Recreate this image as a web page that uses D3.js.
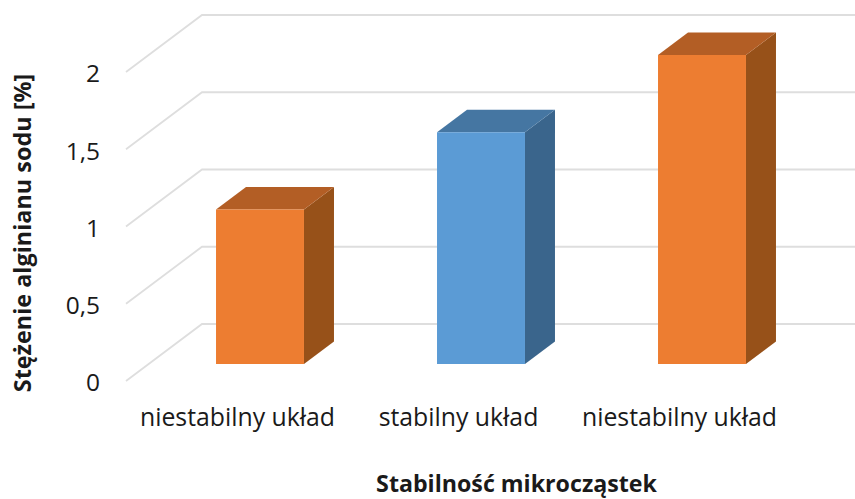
<!DOCTYPE html>
<html><head><meta charset="utf-8">
<script src="https://cdn.jsdelivr.net/npm/d3@7"></script>
<style>html,body{margin:0;padding:0;background:#fff}svg{display:block}text{font-family:"Open Sans",sans-serif;fill:#1a1a1a}</style>
</head><body><svg id="c" width="855" height="499"></svg>
<script>
const categories = ["niestabilny układ","stabilny układ","niestabilny układ"];
const values = [1, 1.5, 2];
const groups = ["u","s","u"];
const yTicks = [0, 0.5, 1, 1.5, 2];
const yTitle = "Stężenie alginianu sodu [%]";
const xTitle = "Stabilność mikrocząstek";
const fronts = ["#ED7D31","#5B9BD5"];
const tops = ["#B35E25","#4576A2"];
const sides = ["#975119","#3A658C"];

const svg = d3.select("#c");
const y = d3.scaleLinear().domain([0,2]).range([381,72]);
const x = d3.scaleBand().domain(d3.range(categories.length)).range([149.5,812.5]).paddingInner(0.602).paddingOuter(0.301);
const colour = s => d3.scaleOrdinal(["u","s"], s);
const fillF = colour(fronts), fillT = colour(tops), fillS = colour(sides);
const wall = {dx:76, dy:-57, x0:126, x1:855};
const depth = {dx:30, dy:-22.5, lift:17};
const line = d3.line();

svg.append("g").selectAll("path").data(yTicks).join("path")
  .attr("d", v => line([[wall.x0,y(v)],[wall.x0+wall.dx,y(v)+wall.dy],[wall.x1,y(v)+wall.dy]]))
  .attr("fill","none").attr("stroke","#DEDEDE").attr("stroke-width",1.8);

const bars = svg.append("g").selectAll("g").data(values).join("g");
const base = y(0) - depth.lift, h = v => y(0) - y(v);
const bw = x.bandwidth();
bars.append("path").attr("fill",(d,i)=>fillS(groups[i]))
  .attr("d",(d,i)=>{const r=x(i)+bw,t=base-h(d);return line([[r,base],[r,t],[r+depth.dx,t+depth.dy],[r+depth.dx,base+depth.dy]])+"Z";});
bars.append("path").attr("fill",(d,i)=>fillT(groups[i]))
  .attr("d",(d,i)=>{const l=x(i),r=l+bw,t=base-h(d);return line([[l,t],[r,t],[r+depth.dx,t+depth.dy],[l+depth.dx,t+depth.dy]])+"Z";});
bars.append("rect").attr("fill",(d,i)=>fillF(groups[i]))
  .attr("x",(d,i)=>x(i)).attr("y",d=>base-h(d)).attr("width",bw).attr("height",d=>h(d));

const yAxis = d3.axisLeft(y).tickValues(yTicks).tickSize(0).tickPadding(0).tickFormat(v=>String(v).replace(".",","));
const ga = svg.append("g").attr("transform","translate(100,0)").call(yAxis);
ga.select(".domain").remove();
ga.selectAll("text").attr("font-size",24.5).attr("font-family",'"Open Sans",sans-serif').attr("dy","0.4em");

svg.append("g").selectAll("text").data(categories).join("text")
  .attr("x",(d,i)=>x(i)+bw/2-22.5).attr("y",426).attr("text-anchor","middle").attr("font-size",24.8).text(d=>d);

svg.append("text").attr("x",516.5).attr("y",492).attr("text-anchor","middle").attr("font-size",23.2).attr("font-weight",700).text(xTitle);
svg.append("text").attr("transform","translate(31,233) rotate(-90)").attr("text-anchor","middle").attr("font-size",23.4).attr("font-weight",700).text(yTitle);
</script></body></html>
